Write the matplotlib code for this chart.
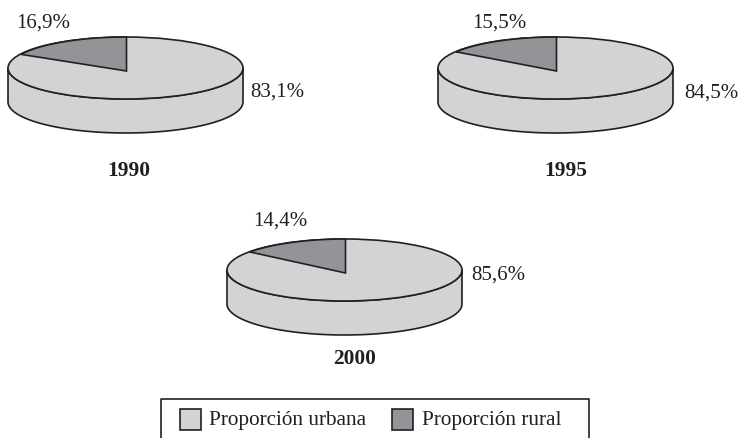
import numpy as np
import matplotlib
matplotlib.use('Agg')
import matplotlib.pyplot as plt
from matplotlib.patches import Ellipse, Polygon, Rectangle

years = ['1990', '1995', '2000']
rural = [16.9, 15.5, 14.4]
urban = [83.1, 84.5, 85.6]
rural_labels = ['16,9%', '15,5%', '14,4%']
urban_labels = ['83,1%', '84,5%', '85,6%']
legend_labels = ['Proporción urbana', 'Proporción rural']

LIGHT = '#d2d3d5'
DARK = '#929497'
INK = '#231f20'

plt.rcParams['font.family'] = ['Liberation Serif', 'DejaVu Serif']

fig = plt.figure(figsize=(7.4, 4.38), dpi=100)
ax = fig.add_axes([0, 0, 1, 1])
ax.set_xlim(0, 740)
ax.set_ylim(438, 0)
ax.axis('off')


def pie3d(cx, cy, rx, ry, depth, share):
    # side wall first, then the top with the rural wedge
    t = np.linspace(0, np.pi, 100)
    x = cx + rx * np.cos(t)
    y = cy + ry * np.sin(t)
    wall = np.r_[np.c_[x, y], np.c_[x[::-1], y[::-1] + depth]]
    ax.add_patch(Polygon(wall, closed=True, fc=LIGHT, ec=INK, lw=1.2))
    ax.add_patch(Ellipse((cx, cy), 2 * rx, 2 * ry, fc=LIGHT, ec=INK, lw=1.2))
    # rural wedge ends at 12 o'clock, runs counter clockwise
    # tilted view stretches the angle a bit, apex sits just under the centre
    a = np.linspace(np.pi / 2, np.pi / 2 + 1.05 * 2 * np.pi * share / 100, 60)
    top = np.c_[cx + 1 + rx * np.cos(a), cy - ry * np.sin(a)]
    wedge = np.r_[[[cx + 1, cy + 3]], top]
    ax.add_patch(Polygon(wedge, closed=True, fc=DARK, ec=INK, lw=1.2))


centers = [(125.5, 68), (555.5, 68), (344.5, 270)]
rx, ry, depth = 117.5, 31, 34

for c, s in zip(centers, rural):
    pie3d(c[0], c[1], rx, ry, depth, s)

rural_pos = [(43, 23), (499, 23), (280.5, 221.5)]
urban_pos = [(277, 92), (711, 93), (498, 275)]
year_pos = [(129, 171.5), (565.5, 171.5), (355, 358.5)]

for p, t in zip(rural_pos, rural_labels):
    ax.text(p[0], p[1], t, fontsize=15, color=INK, ha='center', va='center')
for p, t in zip(urban_pos, urban_labels):
    ax.text(p[0], p[1], t, fontsize=15, color=INK, ha='center', va='center')
for p, t in zip(year_pos, years):
    ax.text(p[0], p[1], t, fontsize=15.4, color=INK, fontweight='bold', ha='center', va='center')

# legend box, its bottom edge is cut off by the image border
ax.plot([161, 161, 589, 589], [438, 399, 399, 438], color=INK, lw=1.2)
ax.add_patch(Rectangle((180, 409), 21, 21, fc=LIGHT, ec=INK, lw=1.2))
ax.add_patch(Rectangle((392, 409), 21, 21, fc=DARK, ec=INK, lw=1.2))
ax.text(209, 421, legend_labels[0], fontsize=15.3, color=INK, va='center')
ax.text(422, 421, legend_labels[1], fontsize=15.3, color=INK, va='center')

fig.savefig('out.png', dpi=100)
